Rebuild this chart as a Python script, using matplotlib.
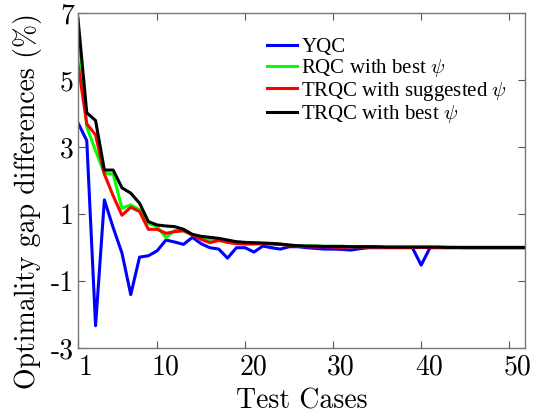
import numpy as np
import matplotlib.pyplot as plt
import matplotlib.transforms as mtransforms

plt.rcParams['mathtext.fontset'] = 'cm'
plt.rcParams['axes.unicode_minus'] = False

# test case index
cases = np.arange(1, 53)

yqc = [3.73, 3.2, -2.33, 1.43, 0.6, -0.16, -1.4, -0.28, -0.24, -0.09,
       0.23, 0.17, 0.1, 0.31, 0.12, 0.0, -0.04, -0.31, 0.0, 0.0,
       -0.13, 0.05, 0.0, -0.04, 0.03, 0.03, 0.0, -0.02, -0.04, -0.04,
       -0.05, -0.07, -0.03, 0.0, 0.0, 0.0, 0.0, 0.0, 0.0, -0.52,
       0.0, 0.0, 0.0, 0.0, 0.0, 0.0, 0.0, 0.0, 0.0, 0.0,
       0.0, 0.0]
rqc_best = [6.6, 3.6, 2.9, 2.22, 2.2, 1.18, 1.28, 1.13, 0.73, 0.63,
            0.3, 0.52, 0.5, 0.39, 0.3, 0.23, 0.26, 0.2, 0.17, 0.15,
            0.14, 0.13, 0.12, 0.1, 0.08, 0.06, 0.05, 0.05, 0.04, 0.04,
            0.04, 0.03, 0.03, 0.03, 0.03, 0.02, 0.02, 0.02, 0.02, 0.02,
            0.02, 0.01, 0.01, 0.01, 0.01, 0.01, 0.01, 0.01, 0.01, 0.01,
            0.01, 0.01]
trqc_sugg = [5.5, 3.7, 3.37, 2.2, 1.55, 0.97, 1.21, 1.08, 0.55, 0.55,
             0.43, 0.48, 0.51, 0.38, 0.25, 0.15, 0.22, 0.16, 0.12, 0.11,
             0.11, 0.12, 0.11, 0.1, 0.07, 0.05, 0.03, 0.02, 0.03, 0.02,
             0.01, 0.03, 0.02, 0.02, 0.02, 0.01, 0.01, 0.01, 0.01, 0.01,
             0.01, 0.01, 0.01, 0.01, 0.0, 0.0, 0.0, 0.0, 0.0, 0.0,
             0.0, 0.0]
trqc_best = [6.85, 4.03, 3.8, 2.32, 2.32, 1.79, 1.63, 1.33, 0.78, 0.68,
             0.65, 0.63, 0.55, 0.4, 0.34, 0.31, 0.28, 0.23, 0.18, 0.16,
             0.15, 0.14, 0.13, 0.11, 0.08, 0.06, 0.05, 0.05, 0.04, 0.04,
             0.04, 0.03, 0.03, 0.03, 0.03, 0.02, 0.02, 0.02, 0.02, 0.02,
             0.02, 0.02, 0.01, 0.01, 0.01, 0.01, 0.01, 0.01, 0.01, 0.01,
             0.01, 0.01]

labels = ['YQC', r'RQC with best $\psi$', r'TRQC with suggested $\psi$',
          r'TRQC with best $\psi$']
colors = ['#0000ff', '#00ff00', '#ff0000', '#000000']
xticks = [1, 10, 20, 30, 40, 50]
yticks = [-3, -1, 1, 3, 5, 7]

fig = plt.figure(figsize=(5.34, 4.17), dpi=100)
ax = fig.add_axes([0.146, 0.165, 0.838, 0.803])

for vals, lab, col in zip([yqc, rqc_best, trqc_sugg, trqc_best], labels, colors):
    ax.plot(cases, vals, color=col, lw=2.2, label=lab)

ax.set_xlim(1, 51.85)
ax.set_ylim(-3, 7)
ax.set_xticks(xticks)
ax.set_xticklabels([])
ax.set_yticks(yticks)
ax.set_yticklabels([str(t) for t in yticks])
for lab in ax.get_yticklabels():
    lab.set_family('cmr10')
    lab.set_fontsize(20)

# x labels sit a bit right of their ticks, as in the original
shift = mtransforms.ScaledTranslation(8 / 100, -6 / 100, fig.dpi_scale_trans)
trans = ax.get_xaxis_transform() + shift
for t in xticks:
    ax.text(t, 0, str(t), transform=trans, ha='center', va='top',
            family='cmr10', fontsize=20)

ax.tick_params(direction='in', top=True, right=True, length=5, width=0.8,
               color='#555555')
ax.tick_params(axis='y', pad=3)
for sp in ax.spines.values():
    sp.set_color('#777777')
    sp.set_linewidth(1.0)

ax.set_xlabel('Test Cases', family='cmr10', fontsize=20, va='top')
ax.xaxis.set_label_coords(0.5, -0.12)
ax.set_ylabel('Optimality gap differences (%)', family='cmr10', fontsize=20)
ax.yaxis.set_label_coords(-0.081, 0.44)

leg = ax.legend(loc='upper left', bbox_to_anchor=(0.39, 0.972), frameon=False,
                prop={'family': 'Liberation Serif', 'size': 15},
                handlelength=1.45, handletextpad=0.2, labelspacing=0.02,
                borderaxespad=0.3)

fig.savefig('out.png', dpi=100)
